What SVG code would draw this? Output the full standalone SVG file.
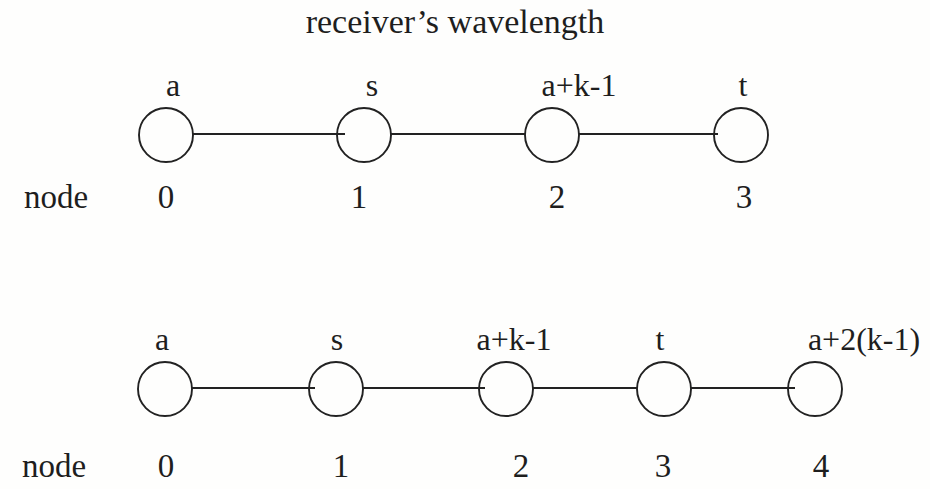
<svg xmlns="http://www.w3.org/2000/svg" width="930" height="489" viewBox="0 0 930 489">
<style>
text{font-family:"Liberation Serif","Times New Roman",serif;fill:#1e1e1e;text-anchor:middle}
.t{font-size:34px}
.l{font-size:32px}
.n{font-size:33px}
.nl{text-anchor:start}
circle{fill:none;stroke:#222;stroke-width:1.9}
line{stroke:#222;stroke-width:2}
</style>
<rect width="930" height="489" fill="#fefefd"/>
<text class="t" x="455" y="33">receiver’s wavelength</text>
<g id="connectors">
<line x1="193" y1="134" x2="345" y2="134"/>
<line x1="391" y1="134" x2="525" y2="134"/>
<line x1="579" y1="134" x2="718" y2="134"/>
<line x1="192" y1="388" x2="315" y2="388"/>
<line x1="363" y1="388" x2="485" y2="388"/>
<line x1="533" y1="388" x2="637" y2="388"/>
<line x1="691" y1="388" x2="795" y2="388"/>
</g>
<g id="top-n0"><circle cx="166" cy="135" r="27"/><text class="l" x="173" y="96">a</text><text class="n" x="166" y="208">0</text></g>
<g id="top-n1"><circle cx="364" cy="135" r="27"/><text class="l" x="372" y="96">s</text><text class="n" x="359" y="208">1</text></g>
<g id="top-n2"><circle cx="552" cy="135" r="27"/><text class="l" x="579" y="96">a+k-1</text><text class="n" x="557" y="208">2</text></g>
<g id="top-n3"><circle cx="741" cy="135" r="27"/><text class="l" x="743" y="96">t</text><text class="n" x="744" y="208">3</text></g>
<text class="n nl" x="24" y="208">node</text>
<g id="bot-n0"><circle cx="165" cy="389" r="27"/><text class="l" x="162" y="350">a</text><text class="n" x="166" y="477">0</text></g>
<g id="bot-n1"><circle cx="336" cy="389" r="27"/><text class="l" x="337" y="350">s</text><text class="n" x="341" y="477">1</text></g>
<g id="bot-n2"><circle cx="506" cy="389" r="27"/><text class="l" x="514" y="350">a+k-1</text><text class="n" x="521" y="477">2</text></g>
<g id="bot-n3"><circle cx="664" cy="389" r="27"/><text class="l" x="660" y="350">t</text><text class="n" x="663" y="477">3</text></g>
<g id="bot-n4"><circle cx="815" cy="389" r="27"/><text class="l" x="864" y="350">a+2(k-1)</text><text class="n" x="821" y="477">4</text></g>
<text class="n nl" x="22" y="477">node</text>
</svg>
